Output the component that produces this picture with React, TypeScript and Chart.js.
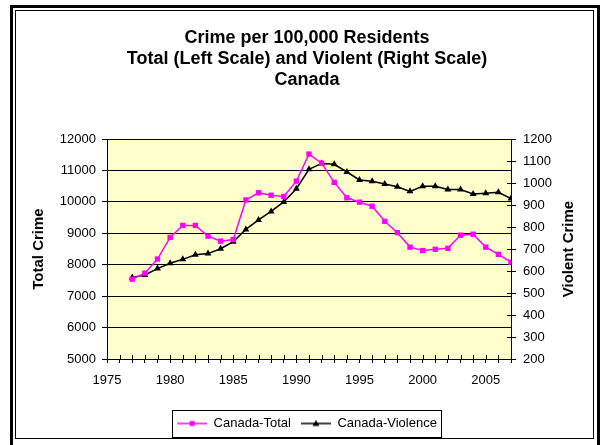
import React, { useEffect, useRef } from "react";
import { Chart, registerables } from "chart.js";

Chart.register(...registerables);

const years = [
  1977, 1978, 1979, 1980, 1981, 1982, 1983, 1984, 1985, 1986, 1987, 1988, 1989, 1990, 1991, 1992,
  1993, 1994, 1995, 1996, 1997, 1998, 1999, 2000, 2001, 2002, 2003, 2004, 2005, 2006, 2007,
];
const totalCrime = [
  7540, 7730, 8180, 8870, 9250, 9250, 8910, 8750, 8800, 10060, 10290, 10210, 10170, 10660, 11520,
  11230, 10620, 10130, 9990, 9860, 9380, 9020, 8560, 8450, 8490, 8520, 8940, 8970, 8560, 8330, 8080,
];
const violentCrime = [
  571, 582, 611, 635, 653, 674, 679, 701, 733, 789, 832, 871, 914, 974, 1062, 1089, 1085, 1050,
  1014, 1008, 995, 983, 962, 985, 985, 970, 970, 950, 953, 958, 929,
];
const titleLines = [
  "Crime per 100,000 Residents",
  "Total (Left Scale) and Violent (Right Scale)",
  "Canada",
];
const seriesNames = ["Canada-Total", "Canada-Violence"];
const leftAxisTitle = "Total Crime";
const rightAxisTitle = "Violent Crime";

const FONT = "'Liberation Sans', Arial, Helvetica, sans-serif";

function legendIcon(color: string, kind: "rect" | "tri") {
  const c = document.createElement("canvas");
  c.width = 30;
  c.height = 10;
  const g = c.getContext("2d")!;
  g.strokeStyle = color;
  g.lineWidth = 1.5;
  g.beginPath();
  g.moveTo(0, 5);
  g.lineTo(30, 5);
  g.stroke();
  g.fillStyle = color;
  if (kind === "rect") {
    g.fillRect(12.5, 2.5, 5, 5);
  } else {
    g.beginPath();
    g.moveTo(15, 1.5);
    g.lineTo(18.5, 7.5);
    g.lineTo(11.5, 7.5);
    g.closePath();
    g.fill();
  }
  return c;
}

const decorPlugin = {
  id: "decor",
  beforeDraw(chart: any) {
    const { ctx, chartArea } = chart;
    ctx.save();
    ctx.fillStyle = "#ffffff";
    ctx.fillRect(0, 0, chart.width, chart.height);
    // outer frame
    ctx.strokeStyle = "#000000";
    ctx.lineWidth = 3;
    ctx.strokeRect(11.5, 6.5, chart.width - 13, chart.height - 4.5);
    ctx.lineWidth = 1;
    ctx.strokeRect(15.5, 10.5, chart.width - 22, chart.height - 17);
    // plot area
    ctx.fillStyle = "#ffffcc";
    ctx.fillRect(
      chartArea.left,
      chartArea.top,
      chartArea.right - chartArea.left,
      chartArea.bottom - chartArea.top
    );
    ctx.restore();
  },
  afterDraw(chart: any) {
    const { ctx, chartArea, scales } = chart;
    ctx.save();
    ctx.strokeStyle = "#000000";
    ctx.lineWidth = 1;
    // inner tick marks on x axis
    const xs = scales.x;
    xs.ticks.forEach((t: any) => {
      const px = Math.round(xs.getPixelForValue(t.value)) + 0.5;
      ctx.beginPath();
      ctx.moveTo(px, chartArea.bottom - 4);
      ctx.lineTo(px, chartArea.bottom);
      ctx.stroke();
    });
    // inner tick marks on right axis
    const yr = scales.y1;
    yr.ticks.forEach((t: any) => {
      const py = Math.round(yr.getPixelForValue(t.value)) + 0.5;
      ctx.beginPath();
      ctx.moveTo(chartArea.right - 4, py);
      ctx.lineTo(chartArea.right, py);
      ctx.stroke();
    });
    // right axis title (reads bottom to top)
    ctx.fillStyle = "#000000";
    ctx.font = `bold 15px ${FONT}`;
    ctx.textAlign = "center";
    ctx.textBaseline = "middle";
    ctx.translate(yr.right - 15, (chartArea.top + chartArea.bottom) / 2);
    ctx.rotate(-Math.PI / 2);
    ctx.fillText(rightAxisTitle, 0, 0);
    ctx.restore();
    // legend border
    const lg = chart.legend;
    if (lg && lg.legendHitBoxes && lg.legendHitBoxes.length) {
      const hb = lg.legendHitBoxes;
      let l = Infinity,
        r = -Infinity,
        t = Infinity,
        b = -Infinity;
      hb.forEach((h: any) => {
        l = Math.min(l, h.left);
        r = Math.max(r, h.left + h.width);
        t = Math.min(t, h.top);
        b = Math.max(b, h.top + h.height);
      });
      ctx.save();
      ctx.strokeStyle = "#000000";
      ctx.lineWidth = 1;
      ctx.strokeRect(
        Math.round(l - 5) + 0.5,
        Math.round(t - 7) + 0.5,
        Math.round(r - l + 9),
        Math.round(b - t + 14)
      );
      ctx.restore();
    }
  },
};

export default function App() {
  const ref = useRef<HTMLCanvasElement | null>(null);

  useEffect(() => {
    if (!ref.current) return;
    const icons = [legendIcon("#ff00ff", "rect"), legendIcon("#000000", "tri")];
    const chart = new Chart(ref.current, {
      type: "line",
      data: {
        datasets: [
          {
            label: seriesNames[0],
            data: years.map((y, i) => ({ x: y, y: totalCrime[i] })),
            yAxisID: "y",
            borderColor: "#ff00ff",
            backgroundColor: "#ff00ff",
            borderWidth: 1.5,
            pointStyle: "rect",
            pointRadius: 3.8,
            pointBorderWidth: 0,
            tension: 0,
          },
          {
            label: seriesNames[1],
            data: years.map((y, i) => ({ x: y, y: violentCrime[i] })),
            yAxisID: "y1",
            borderColor: "#000000",
            backgroundColor: "#000000",
            borderWidth: 1.5,
            pointStyle: "triangle",
            pointRadius: 4,
            pointBorderWidth: 0,
            tension: 0,
          },
        ],
      },
      options: {
        responsive: false,
        animation: false,
        devicePixelRatio: 1,
        layout: { padding: { left: 30, right: 16, top: 0, bottom: 5 } },
        plugins: {
          tooltip: { enabled: false },
          title: {
            display: true,
            text: titleLines,
            color: "#000000",
            font: { family: FONT, size: 18, weight: "bold", lineHeight: 21 / 18 },
            padding: { top: 28, bottom: 48 },
          },
          legend: {
            display: true,
            position: "bottom",
            labels: {
              color: "#000000",
              font: { family: FONT, size: 13 },
              usePointStyle: true,
              pointStyleWidth: 30,
              padding: 10,
              generateLabels: (ch: any) =>
                (Chart.defaults.plugins.legend.labels.generateLabels as any)(ch).map(
                  (l: any, i: number) => ({ ...l, pointStyle: icons[i], fontColor: "#000000" })
                ),
            },
          },
        },
        scales: {
          x: {
            type: "linear",
            min: 1975,
            max: 2007,
            afterFit: (s: any) => {
              s.height = 48;
            },
            ticks: {
              stepSize: 1,
              autoSkip: false,
              maxRotation: 0,
              color: "#000000",
              padding: 10,
              font: { family: FONT, size: 13 },
              callback: (v: any) => (Number(v) % 5 === 0 ? String(v) : ""),
            },
            grid: { drawOnChartArea: false, tickLength: 4, color: "#000000" },
            border: { color: "#000000", width: 1 },
          },
          y: {
            position: "left",
            min: 5000,
            max: 12000,
            afterFit: (s: any) => {
              s.width = 77;
            },
            ticks: {
              stepSize: 1000,
              color: "#000000",
              padding: 6,
              font: { family: FONT, size: 13 },
              callback: (v: any) => String(v),
            },
            grid: { color: "#000000", tickLength: 5, lineWidth: 1 },
            border: { color: "#000000", width: 1 },
            title: {
              display: true,
              text: leftAxisTitle,
              color: "#000000",
              padding: 0,
              font: { family: FONT, size: 15, weight: "bold", lineHeight: 1.2 },
            },
          },
          y1: {
            position: "right",
            min: 200,
            max: 1200,
            afterFit: (s: any) => {
              s.width = 73;
            },
            ticks: {
              stepSize: 100,
              color: "#000000",
              padding: 7,
              font: { family: FONT, size: 13 },
              callback: (v: any) => String(v),
            },
            grid: { drawOnChartArea: false, tickLength: 5, color: "#000000" },
            border: { color: "#000000", width: 1 },
          },
        },
      },
      plugins: [decorPlugin],
    } as any);
    return () => chart.destroy();
  }, []);

  return (
    <div style={{ position: "absolute", left: 0, top: 0, width: 600, height: 445 }}>
      <canvas ref={ref} width={600} height={445} style={{ display: "block" }} />
    </div>
  );
}
